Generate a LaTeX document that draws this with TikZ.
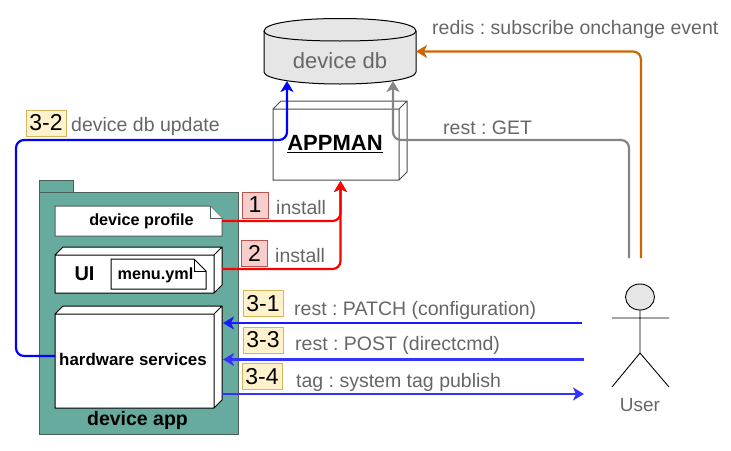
\documentclass[tikz,border=0pt]{standalone}
\usepackage{fontspec}
\setmainfont{Liberation Sans}
\usetikzlibrary{arrows.meta}
\definecolor{pkgfill}{HTML}{67AB9F}
\definecolor{pkgline}{HTML}{4D5F5B}
\definecolor{txtgray}{HTML}{666666}
\definecolor{redbox}{HTML}{F8CECC}
\definecolor{redline}{HTML}{B85450}
\definecolor{yelbox}{HTML}{FFF2CC}
\definecolor{yelline}{HTML}{D6B656}
\definecolor{dbfill}{HTML}{E6E6E6}
\definecolor{orangeline}{HTML}{CC6600}
\definecolor{greyline}{HTML}{858585}
\definecolor{softblue}{HTML}{3333FF}
\tikzset{
  fs/.style={font=\fontsize{#1}{#1}\selectfont},
  lbl/.style={text=txtgray,inner sep=0pt,anchor=west,fs=19.5},
  tagred/.style={draw=redline,fill=redbox,inner sep=0pt,text=black,fs=23,line width=0.8pt},
  tagyel/.style={draw=yelline,fill=yelbox,inner sep=0pt,text=black,fs=23,line width=0.8pt},
  boxbold/.style={inner sep=0pt,font=\fontsize{#1}{#1}\selectfont\bfseries,text=black},
  conn/.style={line width=2.2pt,rounded corners=8pt,-{Stealth[length=11pt,width=13pt,inset=3pt]}},
  stick/.style={draw=black,line width=0.9pt},
}
\frenchspacing
\newcommand{\threed}[6]{% x0 y0 x1 y1 colour name
  \fill[white] (#1,#2) -- (#1+8,#2-8) -- (#3+8,#2-8) -- (#3+8,#4-8) -- (#3,#4) -- (#1,#4) -- cycle;
  \draw[#5,line width=1pt,line join=miter] (#1,#2) -- (#1+8,#2-8) -- (#3+8,#2-8) -- (#3+8,#4-8) -- (#3,#4) -- (#1,#4) -- cycle
    (#1,#2) -- (#3,#2) -- (#3,#4) (#3,#2) -- (#3+8,#2-8);
  \coordinate (#6) at ({(#1+#3)/2},{(#2+#4)/2});
}
\begin{document}
\begin{tikzpicture}[x=1pt,y=-1pt]
\useasboundingbox (0,0) rectangle (731,450);
% package
\draw[pkgline,fill=pkgfill,line width=1pt] (39,192) -- (39,180) -- (73,180) -- (73,192);
\draw[pkgline,fill=pkgfill,line width=1pt] (39,192) rectangle (238,434);
\node[boxbold=19.5] (app) at (137.5,420.5) {device app};
% device profile
\draw[pkgline,fill=white,line width=1pt] (55,206) -- (210,206) -- (222,218) -- (222,236) -- (55,236) -- cycle;
\draw[pkgline,fill=white,line width=1pt] (210,206) -- (210,218) -- (222,218);
\node[boxbold=16.2] (profile) at (141.5,221.5) {device profile};
% UI
\threed{55}{255}{214}{293}{black}{uibox}
\node[boxbold=20] (ui) at (84.5,274) {UI};
\draw[black,fill=white,line width=1pt] (111,259) -- (194,259) -- (206,271) -- (206,289) -- (111,289) -- cycle;
\draw[black,line width=1pt] (194,259) -- (194,271) -- (206,271);
\node[boxbold=16.2] (menu) at (155.5,275) {menu.yml};
% hardware
\threed{55}{314}{214}{408}{black}{hwbox}
\node[boxbold=16.9] (hw) at (133,359.5) {hardware services};
% appman
\threed{273}{109}{399}{180}{black!70}{appbox}
\node[boxbold=22] (appman) at (335,144) {\underline{APPMAN}};
% db
\draw[black,fill=dbfill,line width=1pt] (264,31) .. controls (264,23) and (298,18.5) .. (340,18.5) .. controls (382,18.5) and (416,23) .. (416,31) -- (416,72) .. controls (416,79) and (382,84) .. (340,84) .. controls (298,84) and (264,79) .. (264,72) -- cycle;
\draw[black,line width=1pt] (264,31) .. controls (264,38) and (298,41) .. (340,41) .. controls (382,41) and (416,38) .. (416,31);
\node[text=txtgray,inner sep=0pt,fs=22] (db) at (340,61) {device db};
% user
\draw[stick,fill=dbfill] (640,297) ellipse (14.5 and 13);
\draw[stick] (640,310) -- (640,353) (612,318) -- (669,318) (612,387) -- (640,353) -- (669,387);
\node[text=txtgray,inner sep=0pt,fs=19] (user) at (640,405) {User};
% connector ends
\coordinate (hwL) at (55,356);
\coordinate (dbB1) at (287,81);
\coordinate (dbB2) at (393,81);
\coordinate (dbR) at (416,51.5);
\coordinate (userG) at (629,258);
\coordinate (userO) at (641,258);
\coordinate (profR) at (222,221);
\coordinate (uiR) at (222,269);
\coordinate (appB) at (340.5,181);
\coordinate (hwA) at (223,323);
\coordinate (hwB) at (223,359.5);
\coordinate (hwC) at (222,394);
\coordinate (uA) at (582,323);
\coordinate (uB) at (584,359.5);
\coordinate (uC) at (584,394);
% connectors
\draw[conn,blue] (hwL) -- (16,356) -- (16,140) -- (287,140) -- (dbB1);
\draw[conn,greyline] (userG) -- (629,140) -- (393,140) -- (dbB2);
\draw[conn,orangeline] (userO) -- (641,51.5) -- (dbR);
\draw[conn,red] (profR) -- (340.5,221) -- (appB);
\draw[conn,red] (uiR) -- (340.5,269) -- (appB);
\draw[conn,color=blue!90!white] (uA) -- (hwA);
\draw[conn,softblue] (uB) -- (hwB);
\draw[conn,softblue] (hwC) -- (uC);
% tags
\node[tagred,minimum width=26pt,minimum height=26pt] (t1) at (255,205) {1};
\node[tagred,minimum width=26pt,minimum height=26pt] (t2) at (254.5,253) {2};
\node[tagyel,minimum width=40pt,minimum height=26pt] (t31) at (263,303.5) {3-1};
\node[tagyel,minimum width=40pt,minimum height=26pt] (t33) at (263,340) {3-3};
\node[tagyel,minimum width=40pt,minimum height=26pt] (t34) at (262,376.5) {3-4};
\node[tagyel,minimum width=40pt,minimum height=26pt] (t32) at (46,123) {3-2};
% labels
\node[lbl] (l1) at (276,208) {install};
\node[lbl] (l2) at (275,256) {install};
\node[lbl] (l31) at (294,310) {rest : PATCH (configuration)};
\node[lbl] (l33) at (295,345) {rest : POST (directcmd)};
\node[lbl] (l34) at (296,382.5) {tag : system tag publish};
\node[lbl] (l32) at (71,126) {device db update};
\node[lbl] (lget) at (443,127.5) {rest : GET};
\node[lbl] (lred) at (432,29) {redis : subscribe onchange event};
\end{tikzpicture}
\end{document}
